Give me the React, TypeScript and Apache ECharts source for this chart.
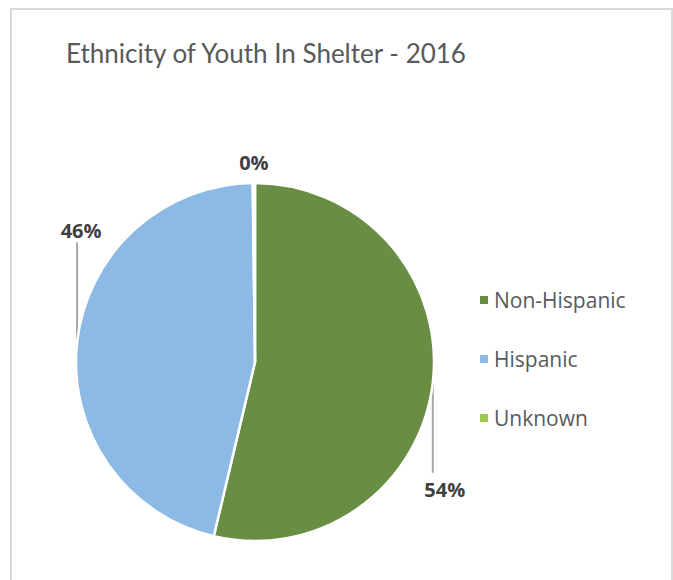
import React, { useEffect, useRef } from "react";
import * as echarts from "echarts";

const titleText = "Ethnicity of Youth In Shelter - 2016";
const categories = ["Non-Hispanic", "Hispanic", "Unknown"];
const values = [53.7, 46.1, 0.2];
const colors = ["#6A8D44", "#8CBAE4", "#9CC850"];

export default function App() {
  const ref = useRef<HTMLDivElement>(null);
  useEffect(() => {
    document.body.style.margin = "0";
    const chart = echarts.init(ref.current!, null, { renderer: "svg" });
    chart.setOption({
      animation: false,
      backgroundColor: "#ffffff",
      title: {
        text: titleText,
        left: 61,
        top: 35,
        textStyle: {
          fontFamily: "Lato",
          fontWeight: 400,
          fontSize: 26,
          color: "#595959",
        },
      },
      graphic: [
        {
          type: "rect",
          shape: { x: 11, y: 9, width: 661, height: 620 },
          style: { fill: "none", stroke: "#d9d9d9", lineWidth: 2 },
          silent: true,
          z: -1,
        },
      ],
      legend: {
        orient: "vertical",
        left: 473,
        top: 283,
        icon: "rect",
        itemWidth: 10,
        itemHeight: 10,
        itemGap: 35,
        data: categories,
        textStyle: {
          fontFamily: "Open Sans",
          fontSize: 21,
          lineHeight: 24,
          color: "#595959",
        },
      },
      series: [
        {
          type: "pie",
          center: [255, 362],
          radius: 179,
          startAngle: 90,
          clockwise: true,
          percentPrecision: 0,
          avoidLabelOverlap: false,
          itemStyle: { borderColor: "#ffffff", borderWidth: 2.5 },
          label: {
            show: true,
            position: "outside",
            formatter: "{d}%",
            fontFamily: "Open Sans",
            fontWeight: "bold",
            fontSize: 20,
            color: "#404040",
          },
          labelLine: {
            show: true,
            length: 10,
            length2: 10,
            lineStyle: { color: "#a6a6a6", width: 2 },
          },
          labelLayout: (p: any) => {
            const pts = p.labelLinePoints;
            if (!pts) return {};
            const x0 = pts[0][0];
            const y0 = pts[0][1];
            if (p.dataIndex === 1) {
              return {
                x: x0 + 4,
                y: y0 - 112,
                align: "center",
                verticalAlign: "middle",
                labelLinePoints: [
                  [x0, y0],
                  [x0, y0 - 100],
                  [x0, y0 - 100],
                ],
              };
            }
            if (p.dataIndex === 0) {
              return {
                x: x0 + 12,
                y: y0 + 107,
                align: "center",
                verticalAlign: "middle",
                labelLinePoints: [
                  [x0, y0],
                  [x0, y0 + 90],
                  [x0, y0 + 90],
                ],
              };
            }
            return {
              x: x0,
              y: y0 - 21,
              align: "center",
              verticalAlign: "middle",
              labelLinePoints: [
                [x0, y0],
                [x0, y0],
                [x0, y0],
              ],
            };
          },
          data: categories.map((c, i) => ({
            name: c,
            value: values[i],
            itemStyle: { color: colors[i] },
            labelLine: i === 2 ? { show: false } : undefined,
          })),
        },
      ],
    });
    return () => chart.dispose();
  }, []);
  return (
    <div
      ref={ref}
      style={{ position: "fixed", left: 0, top: 0, width: 673, height: 580 }}
    />
  );
}
